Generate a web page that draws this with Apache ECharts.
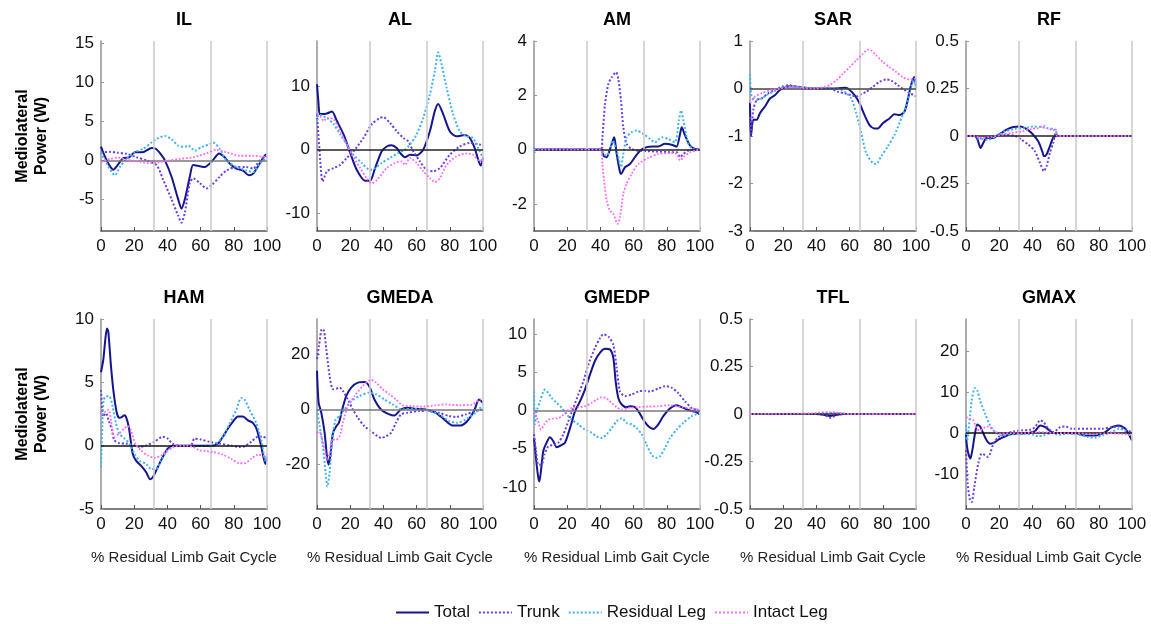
<!DOCTYPE html>
<html>
<head>
<meta charset="utf-8">
<script src="https://cdn.jsdelivr.net/npm/echarts@6/dist/echarts.min.js"></script>
<style>
html,body{margin:0;padding:0;background:#fff;}
#chart{width:1151px;height:624px;}
</style>
</head>
<body>
<div id="chart"></div>
<script>
// ---------------- DATA ----------------
const panelNames = ['IL','AL','AM','SAR','RF','HAM','GMEDA','GMEDP','TFL','GMAX'];
const seriesNames = ['Total','Trunk','Residual Leg','Intact Leg'];
const xTitle = '% Residual Limb Gait Cycle';
const yTitle = 'Mediolateral\nPower (W)';
const phaseLines = [32, 66, 100];

const yMin = [-9.06, -12.8, -3, -3, -0.5, -5, -36, -12.9, -0.5, -18.5];
const yMax = [15.33, 17.1, 4, 1, 0.5, 10, 32.7, 12, 0.5, 27.8];
const yTicks = [
  [-5,0,5,10,15],
  [-10,0,10],
  [-2,0,2,4],
  [-3,-2,-1,0,1],
  [-0.5,-0.25,0,0.25,0.5],
  [-5,0,5,10],
  [-20,0,20],
  [-10,-5,0,5,10],
  [-0.5,-0.25,0,0.25,0.5],
  [-10,0,10,20]
];

// IL
const IL_total = [[0,1.76],[1,1.2],[3,0.2],[5,-0.6],[7.4,-1.2],[10,-0.6],[13.4,0.3],[17,0.4],[20.4,1.05],[25,1.05],[30.5,1.6],[33,1.5],[36,0.8],[38.5,0],[42.5,-2.1],[46.5,-5.0],[48.5,-6.2],[50.5,-5.0],[53.5,-2.1],[55.5,-0.6],[59.5,-0.75],[62.5,-0.85],[66.5,-0.2],[69.5,0.6],[71,0.9],[74.5,0.4],[77.5,-0.4],[81.5,-1.05],[85.5,-1.3],[89,-1.9],[91.6,-1.7],[95.6,-0.4],[99.6,0.8],[100,0.8]];
const IL_trunk = [[0,1.05],[5,1.1],[10,1.0],[15.4,0.85],[21.4,0.4],[27.5,0],[33.5,-0.6],[37.5,-2.5],[42.5,-5.0],[46.5,-7.1],[48.5,-8.0],[50.5,-6.7],[53.5,-2.9],[55.5,-2.3],[59.5,-2.9],[63.5,-3.6],[66.5,-3.2],[71.5,-2.1],[75.5,-1.3],[81.5,-0.85],[87.5,-0.85],[91.6,-1.05],[95.6,0],[100,0.6]];
const IL_res = [[0,1.05],[3.4,-0.4],[8.4,-1.9],[11.4,-0.85],[15.4,0.2],[20.4,1.05],[25.5,1.5],[30.5,2.3],[34.5,2.85],[38.5,3.15],[42.5,2.7],[46.5,1.9],[50.5,1.75],[52.5,1.9],[56.5,1.25],[60.5,1.7],[65.5,2.1],[67.5,2.3],[71.5,1.5],[75.5,0],[81.5,-0.85],[87.5,-1.3],[91.6,-1.5],[95.6,-0.4],[100,0.4]];
const IL_int = [[0,-0.2],[5.4,0.2],[10.4,0.35],[15.4,0.1],[21.4,-0.1],[29.5,-0.35],[35.5,-0.2],[41.5,0],[47.5,0.2],[55.5,0.4],[63.5,0.9],[69.5,1.35],[75.5,1.05],[83.5,0.6],[91.6,0.6],[100,0.4]];

// AL
const AL_total = [[0,10.3],[1,7],[1.6,5.6],[3,5.6],[6,5.7],[9,6.0],[12,4.5],[16,2.4],[20,-0.5],[24,-3.2],[29,-4.9],[32,-4.9],[35,-2.9],[39,-0.26],[42,0.5],[45,0.7],[48,0.26],[50,-0.5],[53,-1.2],[56,-0.8],[60,-0.9],[64,0],[68,2.9],[71,6.1],[73,7.2],[76,5.6],[80,2.9],[84,2.1],[89,2.3],[92,1.85],[95,0.26],[98.6,-2.5],[100,-1.3]];
const AL_trunk = [[0,5.6],[1.5,0],[3.4,-5.0],[6,-3.4],[10,-2.9],[14,-2.4],[18,-1.3],[22,-0.26],[28,1.85],[33,4.0],[38,5.0],[40,5.1],[44,4.2],[48,2.9],[52,1.85],[55,1.3],[58,-0.26],[62,-1.85],[66,-3.2],[70,-3.4],[74,-2.9],[80,-0.8],[86,0.5],[92,1.05],[98,0.8],[100,0.5]];
const AL_res = [[0,4.5],[1,5.5],[6,5.0],[10,4.0],[14,2.4],[18,0.8],[22,-0.8],[27,-2.1],[32,-3.2],[35,-2.9],[39,-2.1],[44,-1.3],[49,-0.5],[53,0],[56,0.8],[60,2.4],[64,5.0],[68,8.7],[71,12.4],[73,15.3],[75,13.5],[78,9.8],[82,5.6],[86,2.9],[90,2.1],[94,1.85],[98,-0.26],[100,-1.3]];
const AL_int = [[0,5.6],[2,5.2],[4,4.5],[6,5.0],[10,4.8],[13,3.4],[17,1.3],[21,-0.8],[26,-2.9],[30,-4.5],[33,-5.3],[36,-4.8],[42,-2.9],[47,-2.1],[51,-1.85],[53,-2.4],[56,-1.3],[60,-2.1],[64,-3.4],[68,-4.5],[71,-5.1],[74,-4.5],[78,-2.4],[84,-1.05],[90,-0.6],[94,-0.8],[98,-1.85],[100,-1.2]];

// AM
const AM_total = [[0,0],[40.4,0],[41.8,-0.22],[43.8,-0.28],[45.8,0.02],[47.8,0.39],[48.4,0.45],[49.8,-0.16],[51.8,-0.83],[52.4,-0.9],[54.8,-0.65],[57.8,-0.53],[60.8,-0.28],[63.9,-0.04],[67.9,0.09],[71.9,0.11],[74.9,0.11],[78.9,0.21],[82.9,0.18],[85.9,0.11],[88,0.58],[89,0.82],[91,0.52],[94,0.15],[97,0.02],[100,0]];
const AM_trunk = [[0,0],[40.4,0],[41.2,0.45],[42.8,1.68],[44.8,2.42],[46.8,2.66],[49.4,2.85],[50.8,2.6],[52.4,1.8],[53.8,0.82],[55.8,0.21],[58.8,0.02],[62.8,-0.04],[72.9,-0.07],[82.9,-0.1],[86,-0.1],[88,-0.28],[90,-0.16],[93,-0.04],[97,0],[100,0]];
const AM_res = [[0,0.1],[0.5,-0.1],[1,0],[40.4,0],[41.8,-0.16],[43.8,-0.22],[45.8,-0.04],[47.2,0.33],[49.8,-0.04],[51.8,-0.53],[52.4,-0.65],[53.8,-0.16],[55.8,0.45],[58.8,0.64],[61.8,0.7],[65.9,0.58],[69.9,0.39],[72.9,0.27],[76.9,0.45],[80.9,0.39],[84.9,0.27],[87.3,1.07],[88.6,1.44],[90,1.07],[93,0.21],[96,0.02],[100,0]];
const AM_int = [[0,0],[40.4,0],[41.2,-0.53],[42.2,-1.14],[43.8,-1.88],[45.8,-2.25],[47.8,-2.37],[50.4,-2.74],[51.8,-2.49],[53.8,-1.63],[55.8,-1.26],[58.8,-0.9],[62.8,-0.53],[68.9,-0.31],[74.9,-0.16],[82.9,-0.13],[86,-0.16],[88,-0.4],[90,-0.28],[94,-0.1],[97,-0.04],[100,0]];

// SAR
const SAR_total = [[0,-0.3],[0.6,-1.0],[2,-0.66],[4,-0.66],[6,-0.52],[9,-0.38],[12,-0.21],[15,-0.14],[18,-0.03],[22,0.035],[24,0.05],[28,0.035],[35,0.007],[49,0],[57,0.014],[59,0],[63,-0.14],[66,-0.31],[69,-0.56],[72,-0.77],[75,-0.84],[77,-0.84],[80,-0.73],[84,-0.63],[87,-0.54],[90,-0.56],[93,-0.49],[95,-0.24],[97,0.07],[99,0.24],[100,0.03]];
const SAR_trunk = [[0,-0.6],[0.5,-0.95],[2,-0.45],[4,-0.24],[7,-0.21],[11,-0.1],[15,-0.03],[19,0.035],[24,0.07],[29,0.035],[39,0],[48,0],[53,-0.07],[57,-0.1],[61,-0.14],[64,-0.17],[67,-0.12],[70,-0.07],[74,0.035],[78,0.14],[82,0.19],[85,0.17],[89,0.07],[93,-0.03],[96,-0.1],[99,-0.14],[100,-0.17]];
const SAR_res = [[0,0.3],[1,-0.17],[4,-0.24],[7,-0.21],[11,-0.12],[16,-0.03],[21,0.035],[27,0.035],[35,0.014],[45,0],[53,0],[57,-0.07],[61,-0.21],[64,-0.52],[67,-0.94],[70,-1.36],[74,-1.57],[76,-1.59],[79,-1.43],[83,-1.22],[87,-0.98],[90,-0.73],[94,-0.38],[97,0.035],[99,0.21],[100,-0.03]];
const SAR_int = [[0,-0.31],[3,-0.17],[7,-0.1],[13,-0.03],[19,0],[24,0.035],[31,0.014],[39,0],[45,0.035],[48,0.07],[52,0.17],[56,0.31],[60,0.45],[64,0.59],[68,0.73],[71,0.82],[73,0.8],[76,0.7],[80,0.56],[84,0.45],[88,0.35],[92,0.24],[96,0.19],[100,0.19]];

// RF
const RF_total = [[0,0],[5.4,0],[7,-0.02],[8.8,-0.063],[10.4,-0.037],[12.4,-0.01],[16.4,-0.01],[18.4,0],[21.4,0.016],[24.4,0.033],[28.5,0.047],[32.5,0.05],[35.5,0.042],[39.5,0.016],[43.5,-0.028],[45.9,-0.08],[47,-0.107],[48.5,-0.098],[50.5,-0.054],[52.5,-0.01],[54.5,0],[100,0]];
const RF_trunk = [[0,0],[5.4,0],[7.4,-0.02],[9.4,-0.01],[14.4,-0.005],[18.4,0],[23.4,0.007],[29.5,0],[33.5,-0.02],[37.5,-0.045],[41.5,-0.08],[44.5,-0.14],[46.9,-0.185],[48.5,-0.16],[50.5,-0.09],[52.5,-0.037],[54.1,0.016],[55.5,0],[100,0]];
const RF_res = [[0,0],[5.4,0],[7.4,-0.01],[13.4,-0.02],[18.4,0],[23.4,0.024],[29.5,0.037],[35.5,0.042],[40.5,0.05],[45.5,0.047],[48.5,0.042],[52.5,0.037],[54.1,0.033],[55.1,0],[100,0]];
const RF_int = [[0,0],[5.4,0],[8.4,-0.01],[15.4,-0.005],[21.4,0.007],[27.5,0.016],[33.5,0.024],[39.5,0.037],[43.5,0.042],[47,0.054],[48.5,0.042],[51.5,0.033],[54.1,0.03],[55.1,0],[100,0]];

// HAM
const HAM_total = [[0,5.8],[1.4,6.8],[2.6,8.4],[3.6,9.25],[4.4,9.0],[6,6.3],[7.6,4.2],[9.5,2.6],[11,2.2],[12.5,2.25],[14.1,2.4],[15,2.3],[16.7,1.5],[19.1,-0.64],[21.1,-1.18],[24.1,-1.58],[27.2,-2.1],[29.6,-2.65],[31.2,-2.5],[34.2,-1.7],[37.2,-0.9],[40.2,-0.24],[43.3,0],[55,0],[65.4,0],[70.4,0.16],[73.4,0.7],[76.5,1.36],[79.5,1.9],[82.5,2.3],[85.5,2.3],[88.5,2.0],[91.5,1.8],[94,1.23],[96.6,-0.1],[99,-1.44],[100,-0.9]];
const HAM_trunk = [[0,4.4],[1.4,2.3],[3,2.57],[4.6,2.0],[6.6,1.23],[8,0.43],[11,0.2],[15,0.16],[19,0.08],[23,-0.1],[27,0],[32,0.3],[37.2,0.7],[40.2,0.56],[43,0.16],[47,0],[54,0],[56.3,0.56],[60.4,0.48],[65.4,0.3],[71.4,0.16],[77.5,0.03],[83.5,-0.1],[86.5,-0.05],[90.5,0.3],[94.6,0.7],[97.6,0.7],[100,0.56]];
const HAM_res = [[0,-1.7],[0.8,1.5],[1.6,3.6],[3,3.9],[5,3.9],[7,3.1],[9,1.76],[11,0.96],[14.1,0.56],[17.1,0.16],[20.1,-0.64],[23.1,-1.18],[27.2,-1.44],[30.2,-1.85],[33.2,-1.85],[36.2,-1.18],[39.2,-0.5],[43.3,-0.1],[47,0],[65,0],[69.4,0.16],[73.4,0.7],[77.5,1.76],[81.5,2.83],[84.5,3.77],[86.5,3.64],[89.5,2.83],[93.6,1.76],[96.6,0.43],[99,-1.18],[100,-0.64]];
const HAM_int = [[0,2.5],[3,2.7],[4.6,2.83],[6.6,1.5],[8,0.7],[11,0.96],[14,1.36],[16,1.55],[18,1.23],[20.7,0.16],[24.1,-0.37],[28.2,-0.78],[32.2,-0.96],[36.2,-0.78],[40.2,-0.37],[44.3,-0.05],[51.3,0],[55.3,-0.1],[59.4,-0.37],[63.4,-0.43],[67.4,-0.5],[73.4,-0.7],[78.5,-1.04],[83.5,-1.39],[86.5,-1.39],[90.5,-1.04],[94.6,-0.7],[97.6,-0.78],[100,-0.7]];

// GMEDA
const GMEDA_total = [[0,14],[1,2.4],[2.6,-1.2],[4.6,-8.5],[6,-17],[7,-20],[8,-17],[9.6,-8.5],[11.6,-6.1],[13.2,-4.8],[15.2,0],[17.6,4.8],[20.6,7.9],[24.6,9.7],[28.6,9.9],[31.6,8.2],[34.6,3.6],[38.6,0],[43.6,-1.8],[46.6,-2.2],[50.6,0],[54.6,0.6],[58.6,0.24],[65.6,0],[71.6,-1.2],[76.6,-3.6],[81.6,-5.8],[86.6,-5.8],[90.6,-4.2],[94.6,-0.6],[97.6,3.6],[100,2.4]];
const GMEDA_trunk = [[0,18.2],[1.2,23],[3,29.1],[4.2,28.5],[5.6,21.8],[7.6,12.1],[9.6,7.3],[11.6,7.5],[13.6,7.9],[15.6,6.7],[18.6,3.6],[21.6,0],[24.6,-3.0],[28.6,-6.1],[32.6,-7.9],[36.6,-9.7],[38.6,-10.3],[41.6,-9.7],[44.6,-8.5],[47.6,-4.8],[50.6,-1.8],[54.6,-1.2],[61.6,-0.6],[67.6,-0.6],[73.6,-1.2],[79.6,-2.4],[83.6,-2.7],[89.6,-1.8],[95.6,-0.6],[100,0]];
const GMEDA_res = [[0,0],[1.6,-6.1],[3.6,-13.3],[5.2,-23],[6.2,-27.9],[7.6,-23],[9.2,-10.9],[11.2,-3.6],[13.6,-2.4],[16.6,0],[20.6,3.0],[25.6,4.8],[31.6,6.1],[35.6,5.5],[40.6,3.6],[45.6,1.8],[51.6,0],[57.6,0.24],[65.6,-0.4],[73.6,-1.8],[79.6,-4.2],[84.6,-4.8],[89.6,-3.6],[95.6,-1.2],[100,1.8]];
const GMEDA_int = [[0,-8.5],[1.6,-8],[2.6,-9.7],[4.6,-14.5],[6.2,-18.2],[7.6,-15.8],[9.2,-10.9],[11.6,-10.9],[13.6,-9.7],[15.6,-4.8],[18.6,1.2],[22.6,4.8],[27.6,8.5],[32.6,10.7],[35.6,9.7],[39.6,7.3],[43.6,5.5],[47.6,3.6],[51.6,1.5],[57.6,1.2],[63.6,1.0],[71.6,1.5],[77.6,1.8],[85.6,1.5],[93.6,1.8],[98.6,3.6],[100,3.0]];

// GMEDP
const GMEDP_total = [[0,-3.6],[0.6,-4.9],[1.6,-7.1],[2.6,-8.8],[3.2,-9.3],[4.2,-7.9],[5.6,-5.3],[7.6,-4.2],[9.6,-3.5],[11.6,-4.0],[13.7,-4.8],[16.7,-4.5],[18.7,-4.2],[21.7,-2.3],[24.7,-0.1],[27.7,1.2],[30.7,2.75],[33.7,4.7],[36.7,6.5],[39.8,7.6],[42.8,8.1],[45.8,8.0],[47.8,6.9],[49.2,3.8],[50.8,1.66],[52.8,0.8],[55.8,0.44],[57.8,0.57],[60.8,0.44],[62.9,-0.1],[65.9,-1.2],[68.9,-2.05],[71.9,-2.4],[74.9,-1.8],[77.9,-0.74],[81.9,0.26],[85.9,0.7],[90,0.35],[94,0],[98,-0.22],[100,-0.5]];
const GMEDP_trunk = [[0,-3.1],[1.2,-5.3],[2.6,-7.1],[4.6,-7.1],[6.2,-5.8],[8.6,-4.7],[11.6,-4.5],[14.7,-4.2],[17.7,-3.1],[20.7,-1.4],[23.7,0.35],[26.7,2.1],[29.7,3.8],[32.7,6.0],[36.7,8.2],[39.8,9.5],[41.8,10.0],[44.8,9.7],[47.8,8.6],[49.8,5.6],[51.8,2.5],[54.8,1.9],[58.8,2.1],[62.9,2.5],[65.9,2.6],[69.9,2.5],[74.9,2.9],[78.9,3.2],[82.9,3.0],[86.9,2.3],[91,1.2],[95,0.35],[100,-0.1]];
const GMEDP_res = [[0,2.5],[0.6,-1.8],[1.6,-0.1],[3.6,1.2],[5.6,2.5],[6.6,2.75],[8.6,2.3],[10.6,1.66],[13.7,1.0],[16.7,0.35],[19.7,-0.5],[22.7,-1.2],[26.7,-1.8],[30.7,-2.5],[34.7,-2.9],[37.8,-3.4],[40.8,-3.6],[43.8,-3.1],[46.8,-2.3],[49.8,-1.4],[52.8,-1.0],[55.8,-1.6],[58.8,-1.8],[61.8,-2.3],[64.9,-3.1],[67.9,-4.5],[70.9,-5.8],[73.3,-6.2],[75.9,-6.0],[78.9,-4.9],[81.9,-3.6],[85.9,-2.5],[90,-1.6],[95,-0.74],[100,-0.3]];
const GMEDP_int = [[0,-0.1],[2.2,-1.2],[4.2,-2.5],[6.2,-1.8],[8.6,-1.2],[11.6,-1.05],[14.7,-1.0],[16.7,-0.74],[19.7,-0.1],[22.7,0.35],[26.7,0.44],[30.7,0.57],[34.7,1.0],[37.8,1.44],[40.8,1.75],[43.8,1.57],[46.8,1.0],[49.8,0.44],[52.8,0.13],[56.8,0.35],[62.9,0.44],[68.9,0.52],[74.9,0.57],[80.9,0.7],[89,0.44],[95,0.26],[100,0.13]];

// TFL
const TFL_total = [[0,0],[40,0],[45,-0.005],[48,-0.01],[52,-0.005],[56,0],[100,0]];
const TFL_trunk = [[0,0],[42,0],[46,-0.01],[48,-0.02],[50,-0.015],[53,-0.005],[56,0],[100,0]];
const TFL_res = [[0,0],[38,0],[45,0.005],[50,0.005],[55,0.003],[58,0],[100,0]];
const TFL_int = [[0,0],[38,0.003],[42,0.008],[48,0.01],[52,0.008],[56,0.003],[60,0],[100,0]];

// GMAX
const GMAX_total = [[0,0],[0.4,-2.6],[1.4,-5.0],[2.6,-6.2],[3.8,-4.2],[5.4,-0.16],[6.8,2.1],[8.5,1.6],[10.5,-0.16],[12.5,-1.8],[14.5,-2.6],[17.5,-2.2],[19.5,-1.6],[22.5,-1.0],[26.6,-0.3],[31.6,-0.16],[37.6,0],[41.6,0.5],[44.7,1.86],[47.7,1.46],[51.7,0.24],[55.7,0],[61.8,0],[67.8,-0.16],[71.8,-0.57],[77.9,-0.57],[83.9,0.24],[87.9,1.46],[92,1.86],[96,1.05],[100,-1.8]];
const GMAX_trunk = [[0,-4.2],[1,-12.3],[2.4,-16.4],[3.4,-16.8],[5,-13.1],[7.4,-7.4],[9.5,-5.0],[11.5,-5.4],[13.1,-5.8],[14.5,-5.0],[16.5,-2.6],[19.5,-1.0],[23.5,-0.16],[28.6,0.4],[33.6,0.65],[38.6,0.8],[41.6,1.46],[44.7,3.1],[46.7,2.7],[49.7,1.05],[52.7,0.24],[56.7,1.46],[59.8,1.6],[63.8,1.05],[75.9,1.05],[81.9,1.05],[87.9,1.46],[92,1.6],[96,0.8],[100,0.24]];
const GMAX_res = [[0,2],[0.6,-1.8],[3.4,7.9],[5.4,11.0],[6.8,10.4],[8.5,7.9],[11.5,4.7],[14.5,1.86],[17.5,0.24],[21.5,-0.57],[27.6,-0.3],[35.6,-0.16],[40.6,-0.4],[43.7,-0.8],[46.7,-0.57],[51.7,0],[55.7,-0.4],[61.8,-0.16],[67.8,-0.4],[73.8,-1.0],[77.9,-1.13],[81.9,-0.57],[87.9,0.24],[92,1.05],[96,0.5],[100,-0.57]];
const GMAX_int = [[0,3.9],[2.4,3.5],[4.4,3.1],[6.4,1.05],[8.5,0.65],[11.5,1.46],[13.5,1.6],[16.5,0.65],[20.5,-0.16],[27.6,0],[35.6,0],[43.7,0.24],[55.7,0],[65.8,0],[75.9,-0.3],[85.9,0],[96,-0.3],[100,-0.57]];

const panelSeries = [
  [IL_total, IL_trunk, IL_res, IL_int],
  [AL_total, AL_trunk, AL_res, AL_int],
  [AM_total, AM_trunk, AM_res, AM_int],
  [SAR_total, SAR_trunk, SAR_res, SAR_int],
  [RF_total, RF_trunk, RF_res, RF_int],
  [HAM_total, HAM_trunk, HAM_res, HAM_int],
  [GMEDA_total, GMEDA_trunk, GMEDA_res, GMEDA_int],
  [GMEDP_total, GMEDP_trunk, GMEDP_res, GMEDP_int],
  [TFL_total, TFL_trunk, TFL_res, TFL_int],
  [GMAX_total, GMAX_trunk, GMAX_res, GMAX_int]
];

// ---------------- STYLE / LAYOUT ----------------
const FONT = "'Liberation Sans', Arial, Helvetica, sans-serif";
const lineStyles = [
  {color:'#15158e', type:'solid', width:2},
  {color:'#6b3fe2', type:'dotted', width:2},
  {color:'#3fb3f0', type:'dotted', width:2},
  {color:'#ff66ff', type:'dotted', width:1.8}
];
const zeroColors = ['#777','#222','#222','#444','#222','#111','#777','#777','#333','#111'];
const colLeft = [101, 317, 534, 750, 966];
const rowTop = [41, 319];
const plotW = 166, plotH = 190;

const grids = [], xAxes = [], yAxes = [], series = [], graphics = [];
for (let i = 0; i < panelNames.length; i++) {
  const r = Math.floor(i / 5), c = i % 5;
  const left = colLeft[c], top = rowTop[r];
  grids.push({left: left, top: top, width: plotW, height: plotH, containLabel: false});
  xAxes.push({
    type: 'value', gridIndex: i, min: 0, max: 100, interval: 20,
    axisLine: {show: true, onZero: false, lineStyle: {color: '#555', width: 1.6}},
    axisTick: {show: true, inside: true, length: 4, lineStyle: {color: '#555', width: 1}},
    axisLabel: {fontSize: 17, color: '#111', margin: 7, fontFamily: FONT},
    splitLine: {show: false},
    name: r === 1 ? xTitle : '',
    nameLocation: 'middle', nameGap: 41,
    nameTextStyle: {fontSize: 15, color: '#222', fontFamily: FONT}
  });
  yAxes.push({
    type: 'value', gridIndex: i, min: yMin[i], max: yMax[i],
    axisLine: {show: true, onZero: false, lineStyle: {color: '#999', width: 1.6}},
    axisTick: {show: true, inside: true, length: 3, customValues: yTicks[i], lineStyle: {color: '#999'}},
    axisLabel: {fontSize: 17, color: '#111', margin: 7, fontFamily: FONT, customValues: yTicks[i]},
    splitLine: {show: false}
  });
  // reference lines (phase markers + zero)
  series.push({
    type: 'line', name: 'ref' + i, xAxisIndex: i, yAxisIndex: i,
    data: [[0, 0]], showSymbol: false, symbol: 'none', silent: true, z: 1,
    lineStyle: {width: 0, opacity: 0},
    markLine: {
      symbol: 'none', silent: true, animation: false,
      label: {show: false},
      data: phaseLines.map(v => ({xAxis: v, lineStyle: {color: '#cdcdcd', width: 1.6, type: 'solid'}}))
        .concat([{yAxis: 0, lineStyle: {color: zeroColors[i], width: 1.6, type: 'solid'}}])
    }
  });
  for (let s = 0; s < 4; s++) {
    series.push({
      type: 'line', name: seriesNames[s], xAxisIndex: i, yAxisIndex: i,
      data: panelSeries[i][s], symbol: 'none', showSymbol: false,
      smooth: 0.25, z: 2 + s,
      lineStyle: lineStyles[s], itemStyle: {color: lineStyles[s].color}
    });
  }
  graphics.push({
    type: 'text', x: left + plotW / 2, y: r === 0 ? 20 : 298,
    style: {text: panelNames[i], font: 'bold 18px ' + FONT, fill: '#000', textAlign: 'center', textVerticalAlign: 'middle'}
  });
}
for (let r = 0; r < 2; r++) {
  graphics.push({
    type: 'text', x: 32, y: rowTop[r] + plotH / 2, rotation: Math.PI / 2,
    style: {text: yTitle, font: 'bold 16px ' + FONT, fill: '#000', textAlign: 'center', textVerticalAlign: 'middle', lineHeight: 19}
  });
}

const chart = echarts.init(document.getElementById('chart'), null, {renderer: 'canvas'});
chart.setOption({
  backgroundColor: '#fff',
  animation: false,
  textStyle: {fontFamily: FONT},
  grid: grids,
  xAxis: xAxes,
  yAxis: yAxes,
  legend: {
    data: seriesNames, left: 390, top: 599, itemWidth: 33, itemHeight: 14, itemGap: 8,
    itemStyle: {opacity: 0},
    textStyle: {fontSize: 17, color: '#111', fontFamily: FONT}
  },
  graphic: graphics,
  series: series
});
</script>
</body>
</html>
